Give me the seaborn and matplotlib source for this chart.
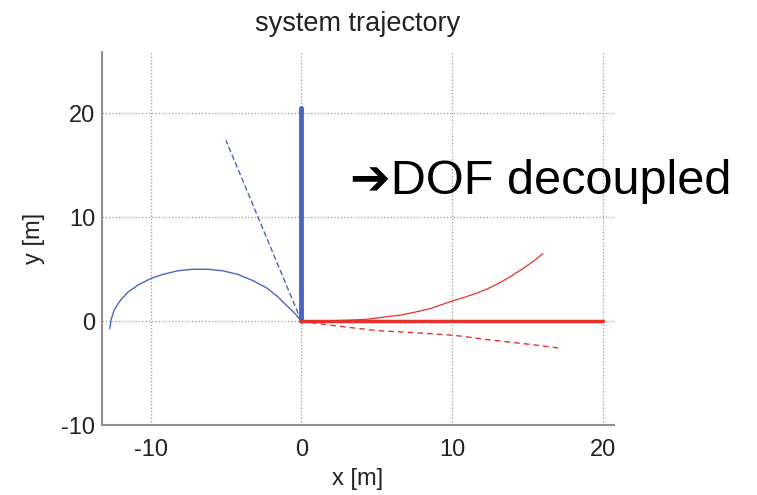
import matplotlib
matplotlib.use('Agg')
import matplotlib.pyplot as plt
import numpy as np
import pandas as pd
import seaborn as sns
from matplotlib.ticker import MultipleLocator

# trajectory data
blue_arc_x = [0, -0.4, -0.9, -1.6, -2.3, -3.2, -4.2, -5.2, -6.2, -7.2,
              -8.2, -9.2, -10.0, -10.8, -11.5, -12.0, -12.4, -12.6, -12.7]
blue_arc_y = [0, 0.7, 1.4, 2.4, 3.2, 3.9, 4.5, 4.85, 5.0, 5.0,
              4.85, 4.5, 4.1, 3.5, 2.8, 2.0, 1.1, 0.2, -0.7]
blue_dash_x = [0, -5.0]
blue_dash_y = [0, 17.4]
blue_axis_x = [0, 0]
blue_axis_y = [0, 20.5]

red_curve_x = [0, 2.0, 3.5, 4.4, 5.5, 6.6, 7.6, 8.5, 9.3, 10.1,
               10.9, 11.6, 12.3, 13.0, 13.8, 14.6, 15.3, 16.0]
red_curve_y = [0, 0.05, 0.12, 0.2, 0.4, 0.6, 0.9, 1.2, 1.6, 2.0,
               2.35, 2.7, 3.1, 3.6, 4.25, 5.0, 5.7, 6.5]
red_dash_x = [0, 2.0, 5.0, 7.5, 10.1, 12.5, 15.0, 17.2]
red_dash_y = [0, -0.4, -0.9, -1.1, -1.35, -1.8, -2.2, -2.6]
red_axis_x = [0, 20]
red_axis_y = [0, 0]

x_ticks = [-10, 0, 10, 20]
y_ticks = [-10, 0, 10, 20]

BLUE = '#4a64c0'
RED = '#e8302a'

sns.set_style('white')
plt.rcParams['font.family'] = ['Liberation Sans', 'DejaVu Sans']
plt.rcParams['axes.unicode_minus'] = False

fig = plt.figure(figsize=(7.57, 4.95), dpi=100)
ax = fig.add_axes([0.135, 0.141, 0.676, 0.754])

def draw(x, y, color, lw, ls='-'):
    df = pd.DataFrame({'x': x, 'y': y})
    sns.lineplot(data=df, x='x', y='y', sort=False, estimator=None,
                 color=color, linewidth=lw, linestyle=ls, ax=ax)

draw(blue_arc_x, blue_arc_y, BLUE, 1.0)
draw(blue_dash_x, blue_dash_y, BLUE, 1.0, (0, (4, 2)))
draw(blue_axis_x, blue_axis_y, BLUE, 3.5)
draw(red_curve_x, red_curve_y, RED, 0.9)
draw(red_dash_x, red_dash_y, RED, 1.0, (0, (4, 3)))
draw(red_axis_x, red_axis_y, RED, 2.5)

ax.set_xlim(-13.2, 20.7)
ax.set_ylim(-10, 25.9)
ax.set_xticks(x_ticks)
ax.set_yticks(y_ticks)
ax.xaxis.set_minor_locator(MultipleLocator(1))
ax.grid(True, which='major', linestyle=':', color='#999999', linewidth=0.9)
ax.set_axisbelow(True)

for side in ['top', 'right']:
    ax.spines[side].set_visible(False)
for side in ['left', 'bottom']:
    ax.spines[side].set_color('#909090')
    ax.spines[side].set_linewidth(1.5)

ax.tick_params(axis='both', which='major', direction='in', length=5,
               color='#666666', labelsize=17, labelcolor='#222222')
ax.tick_params(axis='x', which='major', pad=10)
ax.tick_params(axis='y', which='major', pad=5)
ax.tick_params(axis='x', which='minor', direction='in', length=2,
               color='#888888')

ax.set_title('system trajectory', fontsize=19.5, color='#222222', pad=15)
ax.set_xlabel('x [m]', fontsize=17, color='#222222', labelpad=5)
ax.set_ylabel('y [m]', fontsize=17, color='#222222', labelpad=12)

fig.text(0.462, 0.634, '\u2794DOF decoupled', fontsize=35, color='black',
         ha='left', va='center')

fig.savefig('out.png', dpi=100)
